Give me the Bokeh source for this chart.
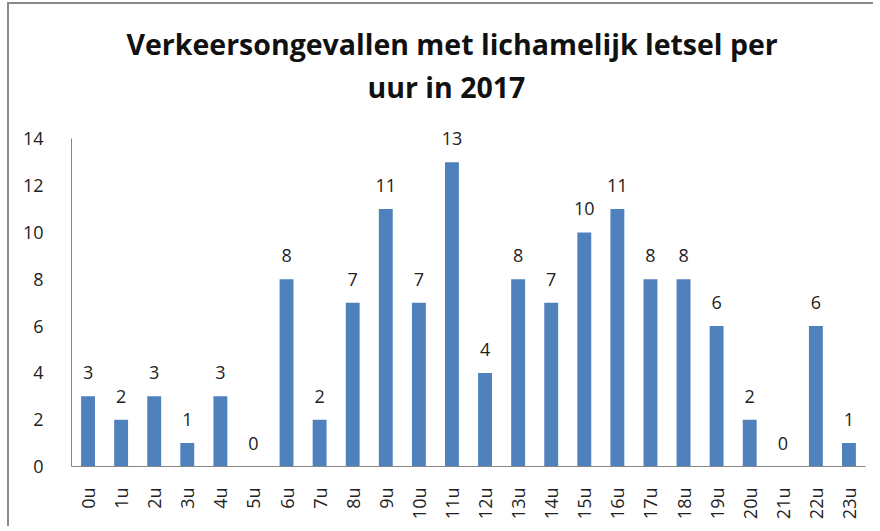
import math
from bokeh.plotting import figure
from bokeh.models import ColumnDataSource, LabelSet, Title, Range1d
from bokeh.core.properties import value
from bokeh.embed import file_html
from bokeh.resources import INLINE

hours = ["0u", "1u", "2u", "3u", "4u", "5u", "6u", "7u", "8u", "9u", "10u", "11u",
         "12u", "13u", "14u", "15u", "16u", "17u", "18u", "19u", "20u", "21u", "22u", "23u"]
accidents = [3, 2, 3, 1, 3, 0, 8, 2, 7, 11, 7, 13, 4, 8, 7, 10, 11, 8, 8, 6, 2, 0, 6, 1]
y_ticks = [0, 2, 4, 6, 8, 10, 12, 14]
title_lines = ["Verkeersongevallen met lichamelijk letsel per", "uur in 2017"]

FONT = "Open Sans"
GRAY = "#868686"
TEXT = "#222222"

source = ColumnDataSource(dict(hour=hours, n=accidents, lab=[str(v) for v in accidents]))

p = figure(x_range=hours, y_range=Range1d(0, 14.7), width=866, height=524,
           output_backend="svg", toolbar_location=None, title=None,
           min_border_left=62, min_border_right=10, min_border_top=118, min_border_bottom=62)
p.styles = {"margin-left": "7px", "margin-top": "2px",
            "border-left": "2px solid #8a8a8a", "border-top": "2px solid #8a8a8a"}

p.vbar(x="hour", top="n", width=0.42, source=source, color="#4F81BD", line_color=None)

labels = LabelSet(x="hour", y="n", text="lab", source=source, text_align="center",
                  text_baseline="alphabetic", y_offset=17, text_font=value(FONT),
                  text_font_size="18px", text_color=TEXT)
p.add_layout(labels)

# title (second line first so it sits closest to the plot)
t2 = Title(text=title_lines[1], align="left", text_font=FONT, text_font_size="28.5px",
           text_font_style="bold", text_color="#111111", offset=296, standoff=34)
t1 = Title(text=title_lines[0], align="left", text_font=FONT, text_font_size="28.5px",
           text_font_style="bold", text_color="#111111", offset=55, standoff=-29)
p.add_layout(t2, "above")
p.add_layout(t1, "above")

p.xgrid.grid_line_color = None
p.ygrid.grid_line_color = None
p.outline_line_color = None

p.yaxis.ticker = y_ticks
p.yaxis.bounds = (0, 14)
p.yaxis.major_tick_line_color = None
p.yaxis.minor_tick_line_color = None
p.yaxis.axis_line_color = GRAY
p.yaxis.major_label_text_font = FONT
p.yaxis.major_label_text_font_size = "18px"
p.yaxis.major_label_text_color = TEXT
p.yaxis.major_label_standoff = 22

p.xaxis.major_tick_line_color = None
p.xaxis.minor_tick_line_color = None
p.xaxis.axis_line_color = GRAY
p.xaxis.major_label_orientation = math.pi / 2
p.xaxis.major_label_text_font = FONT
p.xaxis.major_label_text_font_size = "18px"
p.xaxis.major_label_text_color = TEXT
p.xaxis.major_label_standoff = 15

open("out.html", "w").write(file_html(p, INLINE))
